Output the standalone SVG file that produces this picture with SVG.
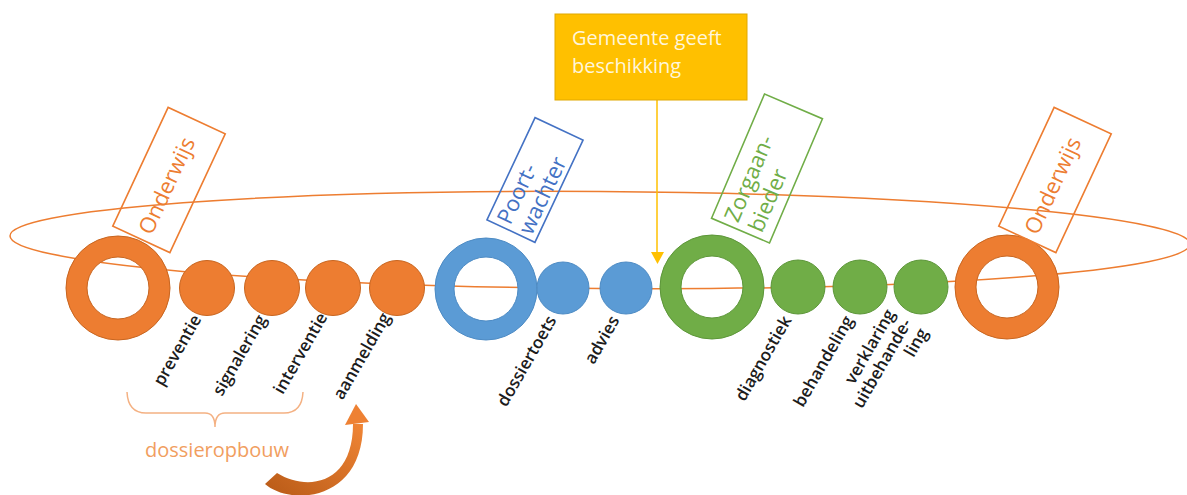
<svg xmlns="http://www.w3.org/2000/svg" width="1187" height="495" viewBox="0 0 1187 495">
<defs>
<style>
.ring-o{fill:#ED7D31;stroke:#C8651F;stroke-width:1;fill-rule:evenodd}
.ring-b{fill:#5B9BD5;stroke:#4D8BC4;stroke-width:1;fill-rule:evenodd}
.ring-g{fill:#70AD47;stroke:#5C9638;stroke-width:1;fill-rule:evenodd}
.dot-o{fill:#ED7D31;stroke:#C8651F;stroke-width:1}
.dot-b{fill:#5B9BD5;stroke:#4D8BC4;stroke-width:1}
.dot-g{fill:#70AD47;stroke:#5C9638;stroke-width:1}
.lbl{font-family:"Open Sans","Liberation Sans",sans-serif;font-size:17px;font-weight:600;fill:#1c1c1c;text-anchor:end}
.tag{font-family:"Open Sans","Liberation Sans",sans-serif;font-size:22px}
.box{fill:none;stroke-width:1.6}
</style>
<linearGradient id="curveGrad" x1="0" y1="1" x2="1" y2="0">
<stop offset="0" stop-color="#B85A17"/>
<stop offset="1" stop-color="#F08535"/>
</linearGradient>
</defs>
<rect width="1187" height="495" fill="#FFFFFF"/>

<g id="cycle">
<ellipse cx="600" cy="240" rx="590" ry="48.5" fill="none" stroke="#ED7D31" stroke-width="1.5" transform="rotate(0.4 600 240)"/>
</g>

<g id="connectors">
<line x1="657" y1="100" x2="657" y2="253" stroke="#FFC000" stroke-width="1.5"/>
<polygon points="651,252 664,252 657.5,264" fill="#FFC000"/>
<path d="M265,484 C290,506 363,502 363,424 L353,424 C353,484 308,492 277,473 Z" fill="url(#curveGrad)"/>
<polygon points="345,425 369,422 356,404" fill="#EE8133"/>
</g>

<g id="n-onderwijs-left">
<path class="ring-o" d="M66,288 a52,52 0 1,0 104,0 a52,52 0 1,0 -104,0 Z M87,288 a31,31 0 1,0 62,0 a31,31 0 1,0 -62,0 Z"/>
<g transform="translate(169 180) rotate(-65)">
<rect class="box" x="-65.5" y="-31.5" width="131" height="63" stroke="#ED7D31"/>
<text class="tag" x="-6" y="8" text-anchor="middle" fill="#ED7D31">Onderwijs</text>
</g>
</g>

<g id="n-preventie">
<circle class="dot-o" cx="207" cy="288" r="27.5"/>
<text class="lbl" transform="translate(202 319) rotate(-60)">preventie</text>
</g>
<g id="n-signalering">
<circle class="dot-o" cx="272" cy="288" r="27.5"/>
<text class="lbl" transform="translate(267 319) rotate(-60)">signalering</text>
</g>
<g id="n-interventie">
<circle class="dot-o" cx="333" cy="288" r="27.5"/>
<text class="lbl" transform="translate(328 317) rotate(-60)">interventie</text>
</g>
<g id="n-aanmelding">
<circle class="dot-o" cx="397" cy="288" r="27.5"/>
<text class="lbl" transform="translate(391 317) rotate(-60)">aanmelding</text>
</g>

<g id="n-dossieropbouw">
<path d="M127,392 Q128,413 146,413 L205,413 Q215,413 215,427 Q215,413 225,413 L284,413 Q302,413 303,392" fill="none" stroke="#F4B183" stroke-width="1.5"/>
<text x="145" y="457" font-family="'Open Sans','Liberation Sans',sans-serif" font-size="20" fill="#F19E5F">dossieropbouw</text>
</g>

<g id="n-poortwachter">
<path class="ring-b" d="M435,289 a51,51 0 1,0 102,0 a51,51 0 1,0 -102,0 Z M454,289 a32,32 0 1,0 64,0 a32,32 0 1,0 -64,0 Z"/>
<g transform="translate(535 180) rotate(-64.8)">
<rect class="box" x="-56.5" y="-26.5" width="113" height="53" stroke="#4472C4"/>
<text class="tag" fill="#4472C4"><tspan x="-52" y="-3">Poort-</tspan><tspan x="-52" y="21">wachter</tspan></text>
</g>
</g>

<g id="n-dossiertoets">
<circle class="dot-b" cx="563" cy="288" r="26"/>
<text class="lbl" transform="translate(557 320) rotate(-60)">dossiertoets</text>
</g>
<g id="n-advies">
<circle class="dot-b" cx="626" cy="288" r="26"/>
<text class="lbl" transform="translate(620 320) rotate(-60)">advies</text>
</g>

<g id="n-gemeente">
<rect x="555" y="14" width="192" height="86" fill="#FFC000" stroke="#E0A800" stroke-width="1"/>
<text font-family="'Open Sans','Liberation Sans',sans-serif" font-size="20" fill="#FFF6DA"><tspan x="572" y="45">Gemeente geeft</tspan><tspan x="572" y="73">beschikking</tspan></text>
</g>

<g id="n-zorgaanbieder">
<path class="ring-g" d="M660,287 a52,52 0 1,0 104,0 a52,52 0 1,0 -104,0 Z M681,287 a31,31 0 1,0 62,0 a31,31 0 1,0 -62,0 Z"/>
<g transform="translate(767 168.5) rotate(-66.9)">
<rect class="box" x="-67.5" y="-31.5" width="135" height="63" stroke="#70AD47"/>
<text class="tag" font-size="23" fill="#70AD47"><tspan x="-62" y="-5">Zorgaan-</tspan><tspan x="-62" y="21">bieder</tspan></text>
</g>
</g>

<g id="n-diagnostiek">
<circle class="dot-g" cx="798" cy="287" r="27"/>
<text class="lbl" transform="translate(792 320) rotate(-60)">diagnostiek</text>
</g>
<g id="n-behandeling">
<circle class="dot-g" cx="860" cy="287" r="27"/>
<text class="lbl" transform="translate(854 320) rotate(-60)">behandeling</text>
</g>
<g id="n-verklaring">
<circle class="dot-g" cx="921" cy="287" r="27"/>
<text class="lbl" transform="translate(912 323) rotate(-60)"><tspan x="0" y="-19">verklaring</tspan><tspan x="0" y="0">uitbehande-</tspan><tspan x="0" y="19">ling</tspan></text>
</g>

<g id="n-onderwijs-right">
<path class="ring-o" d="M955,287 a52,52 0 1,0 104,0 a52,52 0 1,0 -104,0 Z M976,287 a31,31 0 1,0 62,0 a31,31 0 1,0 -62,0 Z"/>
<g transform="translate(1055 180) rotate(-65)">
<rect class="box" x="-65.5" y="-31.5" width="131" height="63" stroke="#ED7D31"/>
<text class="tag" x="-6" y="8" text-anchor="middle" fill="#ED7D31">Onderwijs</text>
</g>
</g>
</svg>
